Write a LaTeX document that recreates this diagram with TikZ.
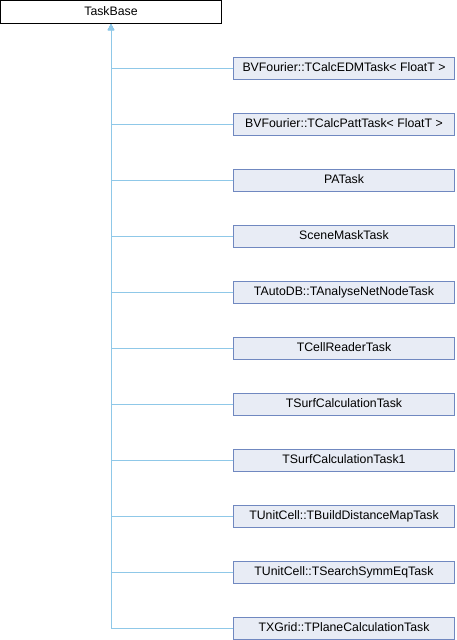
\documentclass[tikz,border=0pt]{standalone}
\usepackage{fontspec}
\setmainfont{Liberation Sans}
\usetikzlibrary{arrows.meta}
\definecolor{edgec}{HTML}{8FC8E8}
\definecolor{boxfill}{HTML}{E8ECF5}
\definecolor{boxdraw}{HTML}{7088C0}
\begin{document}
\begin{tikzpicture}[x=1pt,y=-1pt,
  txt/.style={inner sep=0pt,font=\fontsize{12.3}{13}\selectfont,text height=8.8pt,text depth=2.8pt,line width=1pt},
  basebox/.style={txt,draw=black,fill=white,minimum width=221pt,minimum height=23pt},
  childbox/.style={txt,draw=boxdraw,fill=boxfill,minimum width=221pt,minimum height=22pt},
  edge/.style={draw=edgec,line width=1pt,-{Triangle[width=6pt,length=6pt]}}]
\useasboundingbox (0,0) rectangle (456,640);
\node[basebox] (base) at (111,12) {TaskBase};
\node[childbox] (c1) at (344,68) {BVFourier::TCalcEDMTask< FloatT >};
\node[childbox] (c2) at (344,124) {BVFourier::TCalcPattTask< FloatT >};
\node[childbox] (c3) at (344,180) {PATask};
\node[childbox] (c4) at (344,236) {SceneMaskTask};
\node[childbox] (c5) at (344,292) {TAutoDB::TAnalyseNetNodeTask};
\node[childbox] (c6) at (344,348) {TCellReaderTask};
\node[childbox] (c7) at (344,404) {TSurfCalculationTask};
\node[childbox] (c8) at (344,460) {TSurfCalculationTask1};
\node[childbox] (c9) at (344,516) {TUnitCell::TBuildDistanceMapTask};
\node[childbox] (c10) at (344,572) {TUnitCell::TSearchSymmEqTask};
\node[childbox] (c11) at (344,628) {TXGrid::TPlaneCalculationTask};
\foreach \i in {1,...,11} {\draw[edge] (c\i.west) -| (base.south);}
\end{tikzpicture}
\end{document}
